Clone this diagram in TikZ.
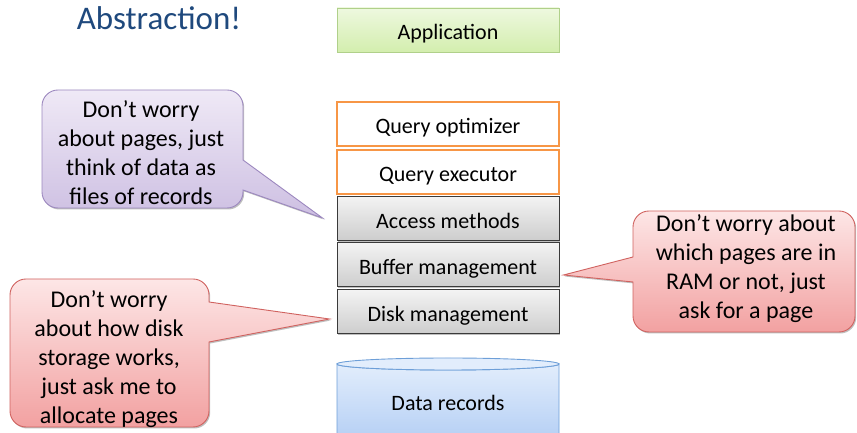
\documentclass[tikz,border=0pt]{standalone}
\usepackage{fontspec}
\setmainfont{Carlito}
\usetikzlibrary{shadows,calc}

\definecolor{titleblue}{HTML}{1F497D}
\definecolor{appTop}{HTML}{EEF8DF}
\definecolor{appBot}{HTML}{D3EEAE}
\definecolor{appLine}{HTML}{B0D08A}
\definecolor{qOrange}{HTML}{F79646}
\definecolor{grayTop}{HTML}{F3F3F3}
\definecolor{grayBot}{HTML}{CDCDCD}
\definecolor{grayLine}{HTML}{3A3A3A}
\definecolor{cylTop}{HTML}{E2EDFC}
\definecolor{cylBot}{HTML}{B3CEF4}
\definecolor{cylLine}{HTML}{6E9FD8}
\definecolor{purpTop}{HTML}{EFE9F6}
\definecolor{purpBot}{HTML}{CDBFE2}
\definecolor{purpLine}{HTML}{9C88BF}
\definecolor{redTop}{HTML}{FDE6E6}
\definecolor{redBot}{HTML}{F2A1A1}
\definecolor{redLine}{HTML}{D0625F}

\tikzset{
  softshadow/.style={drop shadow={shadow xshift=1.2pt,shadow yshift=-1.5pt,opacity=0.25,fill=black}},
  layer/.style={minimum width=222pt,minimum height=44pt,inner sep=0pt,
    text height=21pt,text depth=1pt,
    font=\fontsize{22}{26}\selectfont},
  appbox/.style={layer,draw=appLine,line width=0.8pt,top color=appTop,bottom color=appBot,softshadow},
  querybox/.style={layer,draw=qOrange,line width=2pt,fill=white},
  storebox/.style={layer,draw=grayLine,line width=1pt,top color=grayTop,bottom color=grayBot,softshadow},
  calltext/.style={align=center,inner sep=0pt,font=\fontsize{24}{29}\selectfont},
  purplecall/.style={draw=purpLine,line width=0.9pt,top color=purpTop,bottom color=purpBot,softshadow},
  redcall/.style={draw=redLine,line width=0.9pt,top color=redTop,bottom color=redBot,softshadow},
}

\begin{document}
\begin{tikzpicture}[x=1pt,y=1pt]
\useasboundingbox (0,0) rectangle (857,433);
\clip (0,0) rectangle (857,433);

% title
\node[anchor=base,text=titleblue,font=\fontsize{33}{40}\selectfont,inner sep=0pt] (title) at (159,403) {Abstraction!};

% layer stack
\node[appbox]   (app) at (448,403)   {Application};
\node[querybox] (qo)  at (448,309)   {Query optimizer};
\node[querybox] (qe)  at (448,261)   {Query executor};
\node[storebox] (am)  at (448,214.5) {Access methods};
\node[storebox] (bm)  at (448,168)   {Buffer management};
\node[storebox] (dm)  at (448,121)   {Disk management};

% data store cylinder
\path[draw=cylLine,line width=0.9pt,top color=cylTop,bottom color=cylBot]
  (337,69) -- (337,-10) -- (559,-10) -- (559,69)
  arc[start angle=0,end angle=-180,x radius=111,y radius=6] -- cycle;
\path[draw=cylLine,line width=0.9pt,fill=cylTop] (448,69) ellipse[x radius=111,y radius=6];
\node[font=\fontsize{22}{26}\selectfont] (data) at (448,30) {Data records};

% pointer tips next to the layers
\coordinate (tipA) at ($(am.west)+(-14,0.5)$);
\coordinate (tipD) at ($(dm.west)+(-7,-7)$);
\coordinate (tipB) at ($(bm.east)+(4,-10)$);

% purple callout (pointer on the right)
\path[purplecall]
  (58,225) -- (227,225) arc[start angle=-90,end angle=0,radius=16]
  -- (243,243) -- (tipA) -- (243,273) -- (243,327)
  arc[start angle=0,end angle=90,radius=16] -- (58,343)
  arc[start angle=90,end angle=180,radius=16] -- (42,241)
  arc[start angle=180,end angle=270,radius=16] -- cycle;
\node[calltext] (c1) at (141,280) {Don’t worry\\about pages, just\\think of data as\\files of records};

% red callout, lower left (pointer on the right)
\path[redcall]
  (26,6) -- (193,6) arc[start angle=-90,end angle=0,radius=16]
  -- (209,91) -- (tipD) -- (209,131) -- (209,138)
  arc[start angle=0,end angle=90,radius=16] -- (26,154)
  arc[start angle=90,end angle=180,radius=16] -- (10,22)
  arc[start angle=180,end angle=270,radius=16] -- cycle;
\node[calltext] (c2) at (109,74) {Don’t worry\\about how disk\\storage works,\\just ask me to\\allocate pages};

% red callout, right (pointer on the left)
\path[redcall]
  (649,101) -- (839,101) arc[start angle=-90,end angle=0,radius=16]
  -- (855,206) arc[start angle=0,end angle=90,radius=16]
  -- (649,222) arc[start angle=90,end angle=180,radius=16]
  -- (633,176) -- (tipB) -- (633,151) -- (633,117)
  arc[start angle=180,end angle=270,radius=16] -- cycle;
\node[calltext] (c3) at (746,164) {Don’t worry about\\which pages are in\\RAM or not, just\\ask for a page};
\end{tikzpicture}
\end{document}
